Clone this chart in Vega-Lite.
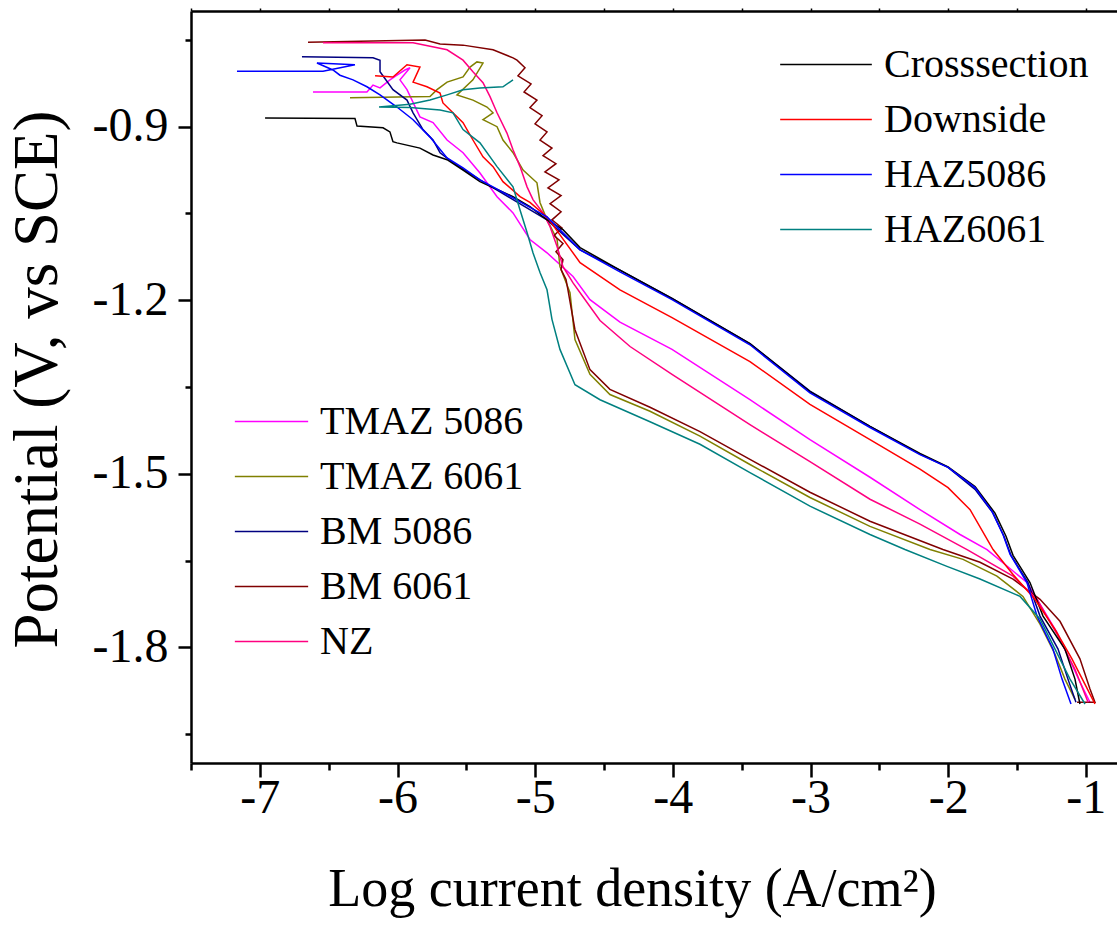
{
  "$schema": "https://vega.github.io/schema/vega-lite/v6.json",
  "width": 926,
  "height": 752,
  "autosize": {"type": "none"},
  "padding": {"left": 191, "top": 11, "right": 0, "bottom": 172},
  "background": "white",
  "config": {
    "font": "'Liberation Serif', 'Times New Roman', Tinos, 'DejaVu Serif', serif",
    "view": {"stroke": null},
    "axis": {"grid": false, "domainColor": "black", "tickColor": "black", "labelColor": "black", "titleColor": "black", "labelFont": "'Liberation Serif', 'Times New Roman', Tinos, 'DejaVu Serif', serif", "titleFont": "'Liberation Serif', 'Times New Roman', Tinos, 'DejaVu Serif', serif", "titleFontWeight": "normal"},
    "legend": {"labelFont": "'Liberation Serif', 'Times New Roman', Tinos, 'DejaVu Serif', serif", "labelColor": "black"}
  },
  "datasets": {
    "a": [
      {"s":"Crosssection","i":1,"x":-6.962,"y":-0.885},
      {"s":"Crosssection","i":2,"x":-6.309,"y":-0.886},
      {"s":"Crosssection","i":3,"x":-6.294,"y":-0.899},
      {"s":"Crosssection","i":4,"x":-6.105,"y":-0.902},
      {"s":"Crosssection","i":5,"x":-6.055,"y":-0.909},
      {"s":"Crosssection","i":6,"x":-6.033,"y":-0.926},
      {"s":"Crosssection","i":7,"x":-6.004,"y":-0.928},
      {"s":"Crosssection","i":8,"x":-5.837,"y":-0.937},
      {"s":"Crosssection","i":9,"x":-5.742,"y":-0.949},
      {"s":"Crosssection","i":10,"x":-5.640,"y":-0.957},
      {"s":"Crosssection","i":11,"x":-5.524,"y":-0.975},
      {"s":"Crosssection","i":12,"x":-5.401,"y":-0.995},
      {"s":"Crosssection","i":13,"x":-5.161,"y":-1.021},
      {"s":"Crosssection","i":14,"x":-5.038,"y":-1.038},
      {"s":"Crosssection","i":15,"x":-4.914,"y":-1.061},
      {"s":"Crosssection","i":16,"x":-4.798,"y":-1.078},
      {"s":"Crosssection","i":17,"x":-4.674,"y":-1.109},
      {"s":"Crosssection","i":18,"x":-4.384,"y":-1.148},
      {"s":"Crosssection","i":19,"x":-4.006,"y":-1.197},
      {"s":"Crosssection","i":20,"x":-3.440,"y":-1.275},
      {"s":"Crosssection","i":21,"x":-3.004,"y":-1.358},
      {"s":"Crosssection","i":22,"x":-2.568,"y":-1.418},
      {"s":"Crosssection","i":23,"x":-2.205,"y":-1.465},
      {"s":"Crosssection","i":24,"x":-2.001,"y":-1.488},
      {"s":"Crosssection","i":25,"x":-1.805,"y":-1.522},
      {"s":"Crosssection","i":26,"x":-1.660,"y":-1.568},
      {"s":"Crosssection","i":27,"x":-1.580,"y":-1.608},
      {"s":"Crosssection","i":28,"x":-1.529,"y":-1.641},
      {"s":"Crosssection","i":29,"x":-1.406,"y":-1.688},
      {"s":"Crosssection","i":30,"x":-1.311,"y":-1.746},
      {"s":"Crosssection","i":31,"x":-1.152,"y":-1.803},
      {"s":"Crosssection","i":32,"x":-1.079,"y":-1.855},
      {"s":"Crosssection","i":33,"x":-1.043,"y":-1.898},

      {"s":"Downside","i":1,"x":-6.163,"y":-0.812},
      {"s":"Downside","i":2,"x":-6.033,"y":-0.814},
      {"s":"Downside","i":3,"x":-5.931,"y":-0.793},
      {"s":"Downside","i":4,"x":-5.837,"y":-0.797},
      {"s":"Downside","i":5,"x":-5.887,"y":-0.823},
      {"s":"Downside","i":6,"x":-5.786,"y":-0.831},
      {"s":"Downside","i":7,"x":-5.691,"y":-0.842},
      {"s":"Downside","i":8,"x":-5.670,"y":-0.859},
      {"s":"Downside","i":9,"x":-5.597,"y":-0.876},
      {"s":"Downside","i":10,"x":-5.524,"y":-0.893},
      {"s":"Downside","i":11,"x":-5.452,"y":-0.923},
      {"s":"Downside","i":12,"x":-5.379,"y":-0.952},
      {"s":"Downside","i":13,"x":-5.306,"y":-0.969},
      {"s":"Downside","i":14,"x":-5.234,"y":-0.995},
      {"s":"Downside","i":15,"x":-5.110,"y":-1.021},
      {"s":"Downside","i":16,"x":-5.038,"y":-1.031},
      {"s":"Downside","i":17,"x":-4.914,"y":-1.056},
      {"s":"Downside","i":18,"x":-4.674,"y":-1.135},
      {"s":"Downside","i":19,"x":-4.384,"y":-1.182},
      {"s":"Downside","i":20,"x":-4.006,"y":-1.230},
      {"s":"Downside","i":21,"x":-3.440,"y":-1.306},
      {"s":"Downside","i":22,"x":-3.004,"y":-1.380},
      {"s":"Downside","i":23,"x":-2.568,"y":-1.441},
      {"s":"Downside","i":24,"x":-2.205,"y":-1.492},
      {"s":"Downside","i":25,"x":-2.001,"y":-1.524},
      {"s":"Downside","i":26,"x":-1.841,"y":-1.562},
      {"s":"Downside","i":27,"x":-1.674,"y":-1.631},
      {"s":"Downside","i":28,"x":-1.529,"y":-1.674},
      {"s":"Downside","i":29,"x":-1.370,"y":-1.717},
      {"s":"Downside","i":30,"x":-1.224,"y":-1.769},
      {"s":"Downside","i":31,"x":-1.101,"y":-1.820},
      {"s":"Downside","i":32,"x":-1.006,"y":-1.864},
      {"s":"Downside","i":33,"x":-0.934,"y":-1.898},

      {"s":"HAZ5086","i":1,"x":-7.166,"y":-0.804},
      {"s":"HAZ5086","i":2,"x":-6.541,"y":-0.804},
      {"s":"HAZ5086","i":3,"x":-6.309,"y":-0.793},
      {"s":"HAZ5086","i":4,"x":-6.585,"y":-0.790},
      {"s":"HAZ5086","i":5,"x":-6.469,"y":-0.802},
      {"s":"HAZ5086","i":6,"x":-6.418,"y":-0.811},
      {"s":"HAZ5086","i":7,"x":-6.323,"y":-0.819},
      {"s":"HAZ5086","i":8,"x":-6.222,"y":-0.831},
      {"s":"HAZ5086","i":9,"x":-6.127,"y":-0.845},
      {"s":"HAZ5086","i":10,"x":-6.004,"y":-0.866},
      {"s":"HAZ5086","i":11,"x":-5.887,"y":-0.888},
      {"s":"HAZ5086","i":12,"x":-5.764,"y":-0.918},
      {"s":"HAZ5086","i":13,"x":-5.640,"y":-0.954},
      {"s":"HAZ5086","i":14,"x":-5.524,"y":-0.971},
      {"s":"HAZ5086","i":15,"x":-5.401,"y":-0.992},
      {"s":"HAZ5086","i":16,"x":-5.161,"y":-1.023},
      {"s":"HAZ5086","i":17,"x":-4.914,"y":-1.056},
      {"s":"HAZ5086","i":18,"x":-4.674,"y":-1.113},
      {"s":"HAZ5086","i":19,"x":-4.384,"y":-1.151},
      {"s":"HAZ5086","i":20,"x":-4.006,"y":-1.199},
      {"s":"HAZ5086","i":21,"x":-3.440,"y":-1.277},
      {"s":"HAZ5086","i":22,"x":-3.004,"y":-1.360},
      {"s":"HAZ5086","i":23,"x":-2.568,"y":-1.420},
      {"s":"HAZ5086","i":24,"x":-2.205,"y":-1.467},
      {"s":"HAZ5086","i":25,"x":-2.001,"y":-1.489},
      {"s":"HAZ5086","i":26,"x":-1.805,"y":-1.524},
      {"s":"HAZ5086","i":27,"x":-1.682,"y":-1.565},
      {"s":"HAZ5086","i":28,"x":-1.602,"y":-1.605},
      {"s":"HAZ5086","i":29,"x":-1.551,"y":-1.639},
      {"s":"HAZ5086","i":30,"x":-1.428,"y":-1.688},
      {"s":"HAZ5086","i":31,"x":-1.355,"y":-1.746},
      {"s":"HAZ5086","i":32,"x":-1.239,"y":-1.803},
      {"s":"HAZ5086","i":33,"x":-1.173,"y":-1.855},
      {"s":"HAZ5086","i":34,"x":-1.108,"y":-1.898},

      {"s":"HAZ6061","i":1,"x":-5.161,"y":-0.819},
      {"s":"HAZ6061","i":2,"x":-5.234,"y":-0.831},
      {"s":"HAZ6061","i":3,"x":-5.401,"y":-0.833},
      {"s":"HAZ6061","i":4,"x":-5.524,"y":-0.836},
      {"s":"HAZ6061","i":5,"x":-5.640,"y":-0.845},
      {"s":"HAZ6061","i":6,"x":-5.764,"y":-0.854},
      {"s":"HAZ6061","i":7,"x":-5.909,"y":-0.861},
      {"s":"HAZ6061","i":8,"x":-6.134,"y":-0.866},
      {"s":"HAZ6061","i":9,"x":-5.909,"y":-0.867},
      {"s":"HAZ6061","i":10,"x":-5.691,"y":-0.871},
      {"s":"HAZ6061","i":11,"x":-5.597,"y":-0.876},
      {"s":"HAZ6061","i":12,"x":-5.524,"y":-0.905},
      {"s":"HAZ6061","i":13,"x":-5.401,"y":-0.928},
      {"s":"HAZ6061","i":14,"x":-5.277,"y":-0.969},
      {"s":"HAZ6061","i":15,"x":-5.161,"y":-1.004},
      {"s":"HAZ6061","i":16,"x":-5.110,"y":-1.044},
      {"s":"HAZ6061","i":17,"x":-5.059,"y":-1.083},
      {"s":"HAZ6061","i":18,"x":-5.016,"y":-1.118},
      {"s":"HAZ6061","i":19,"x":-4.965,"y":-1.152},
      {"s":"HAZ6061","i":20,"x":-4.914,"y":-1.182},
      {"s":"HAZ6061","i":21,"x":-4.878,"y":-1.233},
      {"s":"HAZ6061","i":22,"x":-4.820,"y":-1.285},
      {"s":"HAZ6061","i":23,"x":-4.711,"y":-1.346},
      {"s":"HAZ6061","i":24,"x":-4.529,"y":-1.372},
      {"s":"HAZ6061","i":25,"x":-4.166,"y":-1.410},
      {"s":"HAZ6061","i":26,"x":-3.803,"y":-1.449},
      {"s":"HAZ6061","i":27,"x":-3.440,"y":-1.498},
      {"s":"HAZ6061","i":28,"x":-3.004,"y":-1.556},
      {"s":"HAZ6061","i":29,"x":-2.568,"y":-1.605},
      {"s":"HAZ6061","i":30,"x":-2.314,"y":-1.631},
      {"s":"HAZ6061","i":31,"x":-2.009,"y":-1.660},
      {"s":"HAZ6061","i":32,"x":-1.769,"y":-1.682},
      {"s":"HAZ6061","i":33,"x":-1.478,"y":-1.712},
      {"s":"HAZ6061","i":34,"x":-1.333,"y":-1.751},
      {"s":"HAZ6061","i":35,"x":-1.224,"y":-1.803},
      {"s":"HAZ6061","i":36,"x":-1.115,"y":-1.855},
      {"s":"HAZ6061","i":37,"x":-1.006,"y":-1.898}
    ],
    "b": [
      {"s":"TMAZ 5086","i":1,"x":-6.614,"y":-0.840},
      {"s":"TMAZ 5086","i":2,"x":-6.222,"y":-0.840},
      {"s":"TMAZ 5086","i":3,"x":-6.178,"y":-0.828},
      {"s":"TMAZ 5086","i":4,"x":-6.127,"y":-0.833},
      {"s":"TMAZ 5086","i":5,"x":-6.055,"y":-0.819},
      {"s":"TMAZ 5086","i":6,"x":-6.004,"y":-0.811},
      {"s":"TMAZ 5086","i":7,"x":-5.946,"y":-0.802},
      {"s":"TMAZ 5086","i":8,"x":-5.909,"y":-0.798},
      {"s":"TMAZ 5086","i":9,"x":-5.982,"y":-0.819},
      {"s":"TMAZ 5086","i":10,"x":-5.931,"y":-0.836},
      {"s":"TMAZ 5086","i":11,"x":-5.837,"y":-0.883},
      {"s":"TMAZ 5086","i":12,"x":-5.742,"y":-0.893},
      {"s":"TMAZ 5086","i":13,"x":-5.640,"y":-0.923},
      {"s":"TMAZ 5086","i":14,"x":-5.524,"y":-0.945},
      {"s":"TMAZ 5086","i":15,"x":-5.401,"y":-0.980},
      {"s":"TMAZ 5086","i":16,"x":-5.277,"y":-1.021},
      {"s":"TMAZ 5086","i":17,"x":-5.161,"y":-1.049},
      {"s":"TMAZ 5086","i":18,"x":-5.038,"y":-1.095},
      {"s":"TMAZ 5086","i":19,"x":-4.914,"y":-1.118},
      {"s":"TMAZ 5086","i":20,"x":-4.725,"y":-1.159},
      {"s":"TMAZ 5086","i":21,"x":-4.602,"y":-1.199},
      {"s":"TMAZ 5086","i":22,"x":-4.384,"y":-1.238},
      {"s":"TMAZ 5086","i":23,"x":-4.006,"y":-1.285},
      {"s":"TMAZ 5086","i":24,"x":-3.440,"y":-1.372},
      {"s":"TMAZ 5086","i":25,"x":-3.004,"y":-1.441},
      {"s":"TMAZ 5086","i":26,"x":-2.568,"y":-1.506},
      {"s":"TMAZ 5086","i":27,"x":-2.205,"y":-1.562},
      {"s":"TMAZ 5086","i":28,"x":-1.914,"y":-1.605},
      {"s":"TMAZ 5086","i":29,"x":-1.718,"y":-1.631},
      {"s":"TMAZ 5086","i":30,"x":-1.428,"y":-1.688},
      {"s":"TMAZ 5086","i":31,"x":-1.210,"y":-1.774},
      {"s":"TMAZ 5086","i":32,"x":-1.043,"y":-1.860},
      {"s":"TMAZ 5086","i":33,"x":-0.970,"y":-1.895},

      {"s":"TMAZ 6061","i":1,"x":-6.345,"y":-0.850},
      {"s":"TMAZ 6061","i":2,"x":-5.764,"y":-0.848},
      {"s":"TMAZ 6061","i":3,"x":-5.713,"y":-0.836},
      {"s":"TMAZ 6061","i":4,"x":-5.640,"y":-0.823},
      {"s":"TMAZ 6061","i":5,"x":-5.524,"y":-0.814},
      {"s":"TMAZ 6061","i":6,"x":-5.473,"y":-0.797},
      {"s":"TMAZ 6061","i":7,"x":-5.423,"y":-0.788},
      {"s":"TMAZ 6061","i":8,"x":-5.379,"y":-0.790},
      {"s":"TMAZ 6061","i":9,"x":-5.452,"y":-0.819},
      {"s":"TMAZ 6061","i":10,"x":-5.568,"y":-0.845},
      {"s":"TMAZ 6061","i":11,"x":-5.452,"y":-0.854},
      {"s":"TMAZ 6061","i":12,"x":-5.350,"y":-0.866},
      {"s":"TMAZ 6061","i":13,"x":-5.306,"y":-0.876},
      {"s":"TMAZ 6061","i":14,"x":-5.379,"y":-0.888},
      {"s":"TMAZ 6061","i":15,"x":-5.277,"y":-0.900},
      {"s":"TMAZ 6061","i":16,"x":-5.234,"y":-0.923},
      {"s":"TMAZ 6061","i":17,"x":-5.161,"y":-0.945},
      {"s":"TMAZ 6061","i":18,"x":-5.088,"y":-0.975},
      {"s":"TMAZ 6061","i":19,"x":-4.987,"y":-0.997},
      {"s":"TMAZ 6061","i":20,"x":-4.965,"y":-1.031},
      {"s":"TMAZ 6061","i":21,"x":-4.914,"y":-1.061},
      {"s":"TMAZ 6061","i":22,"x":-4.841,"y":-1.095},
      {"s":"TMAZ 6061","i":23,"x":-4.820,"y":-1.142},
      {"s":"TMAZ 6061","i":24,"x":-4.747,"y":-1.187},
      {"s":"TMAZ 6061","i":25,"x":-4.711,"y":-1.268},
      {"s":"TMAZ 6061","i":26,"x":-4.602,"y":-1.328},
      {"s":"TMAZ 6061","i":27,"x":-4.457,"y":-1.363},
      {"s":"TMAZ 6061","i":28,"x":-4.166,"y":-1.392},
      {"s":"TMAZ 6061","i":29,"x":-3.803,"y":-1.435},
      {"s":"TMAZ 6061","i":30,"x":-3.440,"y":-1.484},
      {"s":"TMAZ 6061","i":31,"x":-3.004,"y":-1.541},
      {"s":"TMAZ 6061","i":32,"x":-2.568,"y":-1.591},
      {"s":"TMAZ 6061","i":33,"x":-2.132,"y":-1.631},
      {"s":"TMAZ 6061","i":34,"x":-1.892,"y":-1.648},
      {"s":"TMAZ 6061","i":35,"x":-1.646,"y":-1.677},
      {"s":"TMAZ 6061","i":36,"x":-1.457,"y":-1.712},
      {"s":"TMAZ 6061","i":37,"x":-1.333,"y":-1.760},
      {"s":"TMAZ 6061","i":38,"x":-1.224,"y":-1.812},
      {"s":"TMAZ 6061","i":39,"x":-1.152,"y":-1.855},
      {"s":"TMAZ 6061","i":40,"x":-1.079,"y":-1.890},

      {"s":"BM 5086","i":1,"x":-6.694,"y":-0.779},
      {"s":"BM 5086","i":2,"x":-6.178,"y":-0.781},
      {"s":"BM 5086","i":3,"x":-6.127,"y":-0.785},
      {"s":"BM 5086","i":4,"x":-6.127,"y":-0.805},
      {"s":"BM 5086","i":5,"x":-6.033,"y":-0.836},
      {"s":"BM 5086","i":6,"x":-5.931,"y":-0.854},
      {"s":"BM 5086","i":7,"x":-5.887,"y":-0.876},
      {"s":"BM 5086","i":8,"x":-5.815,"y":-0.905},
      {"s":"BM 5086","i":9,"x":-5.742,"y":-0.923},
      {"s":"BM 5086","i":10,"x":-5.691,"y":-0.945},
      {"s":"BM 5086","i":11,"x":-5.597,"y":-0.962},
      {"s":"BM 5086","i":12,"x":-5.401,"y":-0.992},
      {"s":"BM 5086","i":13,"x":-5.161,"y":-1.026},
      {"s":"BM 5086","i":14,"x":-4.914,"y":-1.061},
      {"s":"BM 5086","i":15,"x":-4.674,"y":-1.113},
      {"s":"BM 5086","i":16,"x":-4.384,"y":-1.148},
      {"s":"BM 5086","i":17,"x":-4.006,"y":-1.197},
      {"s":"BM 5086","i":18,"x":-3.440,"y":-1.275},
      {"s":"BM 5086","i":19,"x":-3.004,"y":-1.357},
      {"s":"BM 5086","i":20,"x":-2.568,"y":-1.418},
      {"s":"BM 5086","i":21,"x":-2.205,"y":-1.466},
      {"s":"BM 5086","i":22,"x":-2.001,"y":-1.489},
      {"s":"BM 5086","i":23,"x":-1.805,"y":-1.527},
      {"s":"BM 5086","i":24,"x":-1.674,"y":-1.568},
      {"s":"BM 5086","i":25,"x":-1.595,"y":-1.608},
      {"s":"BM 5086","i":26,"x":-1.544,"y":-1.641},
      {"s":"BM 5086","i":27,"x":-1.420,"y":-1.688},
      {"s":"BM 5086","i":28,"x":-1.333,"y":-1.746},
      {"s":"BM 5086","i":29,"x":-1.202,"y":-1.803},
      {"s":"BM 5086","i":30,"x":-1.130,"y":-1.855},
      {"s":"BM 5086","i":31,"x":-1.072,"y":-1.895},

      {"s":"BM 6061","i":1,"x":-6.650,"y":-0.754},
      {"s":"BM 6061","i":2,"x":-5.800,"y":-0.750},
      {"s":"BM 6061","i":3,"x":-5.691,"y":-0.757},
      {"s":"BM 6061","i":4,"x":-5.524,"y":-0.759},
      {"s":"BM 6061","i":5,"x":-5.306,"y":-0.767},
      {"s":"BM 6061","i":6,"x":-5.161,"y":-0.781},
      {"s":"BM 6061","i":7,"x":-5.132,"y":-0.785},
      {"s":"BM 6061","i":8,"x":-5.074,"y":-0.798},
      {"s":"BM 6061","i":9,"x":-5.125,"y":-0.812},
      {"s":"BM 6061","i":10,"x":-5.030,"y":-0.826},
      {"s":"BM 6061","i":11,"x":-5.081,"y":-0.840},
      {"s":"BM 6061","i":12,"x":-4.987,"y":-0.854},
      {"s":"BM 6061","i":13,"x":-5.038,"y":-0.867},
      {"s":"BM 6061","i":14,"x":-4.950,"y":-0.881},
      {"s":"BM 6061","i":15,"x":-5.001,"y":-0.895},
      {"s":"BM 6061","i":16,"x":-4.914,"y":-0.909},
      {"s":"BM 6061","i":17,"x":-4.965,"y":-0.923},
      {"s":"BM 6061","i":18,"x":-4.878,"y":-0.937},
      {"s":"BM 6061","i":19,"x":-4.943,"y":-0.950},
      {"s":"BM 6061","i":20,"x":-4.849,"y":-0.964},
      {"s":"BM 6061","i":21,"x":-4.929,"y":-0.978},
      {"s":"BM 6061","i":22,"x":-4.827,"y":-0.992},
      {"s":"BM 6061","i":23,"x":-4.907,"y":-1.006},
      {"s":"BM 6061","i":24,"x":-4.812,"y":-1.019},
      {"s":"BM 6061","i":25,"x":-4.892,"y":-1.033},
      {"s":"BM 6061","i":26,"x":-4.812,"y":-1.047},
      {"s":"BM 6061","i":27,"x":-4.878,"y":-1.061},
      {"s":"BM 6061","i":28,"x":-4.805,"y":-1.075},
      {"s":"BM 6061","i":29,"x":-4.863,"y":-1.088},
      {"s":"BM 6061","i":30,"x":-4.798,"y":-1.102},
      {"s":"BM 6061","i":31,"x":-4.849,"y":-1.116},
      {"s":"BM 6061","i":32,"x":-4.798,"y":-1.130},
      {"s":"BM 6061","i":33,"x":-4.812,"y":-1.147},
      {"s":"BM 6061","i":34,"x":-4.776,"y":-1.164},
      {"s":"BM 6061","i":35,"x":-4.762,"y":-1.182},
      {"s":"BM 6061","i":36,"x":-4.711,"y":-1.251},
      {"s":"BM 6061","i":37,"x":-4.602,"y":-1.320},
      {"s":"BM 6061","i":38,"x":-4.457,"y":-1.354},
      {"s":"BM 6061","i":39,"x":-4.166,"y":-1.385},
      {"s":"BM 6061","i":40,"x":-3.803,"y":-1.427},
      {"s":"BM 6061","i":41,"x":-3.440,"y":-1.475},
      {"s":"BM 6061","i":42,"x":-3.004,"y":-1.532},
      {"s":"BM 6061","i":43,"x":-2.568,"y":-1.582},
      {"s":"BM 6061","i":44,"x":-2.038,"y":-1.631},
      {"s":"BM 6061","i":45,"x":-1.769,"y":-1.653},
      {"s":"BM 6061","i":46,"x":-1.529,"y":-1.682},
      {"s":"BM 6061","i":47,"x":-1.333,"y":-1.717},
      {"s":"BM 6061","i":48,"x":-1.188,"y":-1.755},
      {"s":"BM 6061","i":49,"x":-1.043,"y":-1.820},
      {"s":"BM 6061","i":50,"x":-0.970,"y":-1.872},
      {"s":"BM 6061","i":51,"x":-0.934,"y":-1.895},
      {"s":"BM 6061","i":52,"x":-1.064,"y":-1.895},

      {"s":"NZ","i":1,"x":-6.541,"y":-0.755},
      {"s":"NZ","i":2,"x":-5.887,"y":-0.755},
      {"s":"NZ","i":3,"x":-5.640,"y":-0.767},
      {"s":"NZ","i":4,"x":-5.524,"y":-0.785},
      {"s":"NZ","i":5,"x":-5.452,"y":-0.805},
      {"s":"NZ","i":6,"x":-5.379,"y":-0.824},
      {"s":"NZ","i":7,"x":-5.328,"y":-0.848},
      {"s":"NZ","i":8,"x":-5.277,"y":-0.876},
      {"s":"NZ","i":9,"x":-5.205,"y":-0.911},
      {"s":"NZ","i":10,"x":-5.161,"y":-0.940},
      {"s":"NZ","i":11,"x":-5.110,"y":-0.969},
      {"s":"NZ","i":12,"x":-5.059,"y":-1.004},
      {"s":"NZ","i":13,"x":-5.016,"y":-1.026},
      {"s":"NZ","i":14,"x":-4.943,"y":-1.049},
      {"s":"NZ","i":15,"x":-4.892,"y":-1.073},
      {"s":"NZ","i":16,"x":-4.841,"y":-1.107},
      {"s":"NZ","i":17,"x":-4.798,"y":-1.142},
      {"s":"NZ","i":18,"x":-4.725,"y":-1.170},
      {"s":"NZ","i":19,"x":-4.653,"y":-1.194},
      {"s":"NZ","i":20,"x":-4.529,"y":-1.235},
      {"s":"NZ","i":21,"x":-4.311,"y":-1.280},
      {"s":"NZ","i":22,"x":-4.006,"y":-1.328},
      {"s":"NZ","i":23,"x":-3.440,"y":-1.415},
      {"s":"NZ","i":24,"x":-3.004,"y":-1.479},
      {"s":"NZ","i":25,"x":-2.568,"y":-1.544},
      {"s":"NZ","i":26,"x":-2.205,"y":-1.587},
      {"s":"NZ","i":27,"x":-1.863,"y":-1.631},
      {"s":"NZ","i":28,"x":-1.529,"y":-1.677},
      {"s":"NZ","i":29,"x":-1.355,"y":-1.717},
      {"s":"NZ","i":30,"x":-1.210,"y":-1.777},
      {"s":"NZ","i":31,"x":-1.079,"y":-1.838},
      {"s":"NZ","i":32,"x":-0.984,"y":-1.895}
    ]
  },
  "resolve": {"scale": {"color": "independent"}, "axis": {"x": "independent", "y": "independent"}},
  "layer": [
    {
      "data": {"name": "b"},
      "mark": {"type": "line", "strokeWidth": 1.5, "clip": true},
      "encoding": {
        "x": {"field": "x", "type": "quantitative", "scale": {"domain": [-7.5, -0.7738], "nice": false, "zero": false},
          "axis": {"orient": "bottom", "values": [-7.5, -6.5, -5.5, -4.5, -3.5, -2.5, -1.5], "labels": false, "domain": false, "title": null, "tickSize": 7, "tickWidth": 2.5}},
        "y": {"field": "y", "type": "quantitative", "scale": {"domain": [-2.0, -0.7], "nice": false, "zero": false},
          "axis": {"orient": "left", "values": [-0.75, -1.05, -1.35, -1.65, -1.95], "labels": false, "domain": false, "title": null, "tickSize": 6, "tickWidth": 2.5}},
        "order": {"field": "i", "type": "quantitative"},
        "color": {"field": "s", "type": "nominal",
          "scale": {"domain": ["TMAZ 5086", "TMAZ 6061", "BM 5086", "BM 6061", "NZ"], "range": ["#FF00FF", "#808000", "#000080", "#800000", "#FF0080"]},
          "legend": {"orient": "none", "legendX": 43, "legendY": 384, "title": null, "padding": 0, "labelFontSize": 40, "labelOffset": 11, "labelLimit": 0, "symbolType": "stroke", "symbolSize": 5373, "symbolStrokeWidth": 1.5, "clipHeight": 53, "rowPadding": 2}}
      }
    },
    {
      "data": {"name": "a"},
      "mark": {"type": "line", "strokeWidth": 1.5, "clip": true},
      "encoding": {
        "x": {"field": "x", "type": "quantitative",
          "axis": {"orient": "bottom", "values": [-7, -6, -5, -4, -3, -2, -1], "labelExpr": "'-' + format(abs(datum.value), 'd')", "labelFontSize": 48, "labelBaseline": "alphabetic", "labelPadding": 35, "tickSize": 14, "tickWidth": 2.5, "domainWidth": 2.5,
            "title": "Log current density (A/cm²)", "titleFontSize": 54, "titleX": 441, "titleY": 142, "titleBaseline": "alphabetic"}},
        "y": {"field": "y", "type": "quantitative",
          "axis": {"orient": "left", "values": [-0.9, -1.2, -1.5, -1.8], "labelExpr": "'-' + format(abs(datum.value), '.1f')", "labelFontSize": 48, "labelPadding": 10, "tickSize": 13, "tickWidth": 2.5, "domainWidth": 2.5,
            "title": "Potential (V, vs SCE)", "titleFontSize": 63, "titleX": -135, "titleY": 368, "titleAngle": 270, "titleBaseline": "alphabetic"}},
        "order": {"field": "i", "type": "quantitative"},
        "color": {"field": "s", "type": "nominal",
          "scale": {"domain": ["Crosssection", "Downside", "HAZ5086", "HAZ6061"], "range": ["#000000", "#FF0000", "#0000FF", "#008080"]},
          "legend": {"orient": "none", "legendX": 588, "legendY": 27, "title": null, "padding": 0, "labelFontSize": 40, "labelOffset": 11, "labelLimit": 0, "symbolType": "stroke", "symbolSize": 8400, "symbolStrokeWidth": 1.5, "clipHeight": 53, "rowPadding": 2}}
      }
    },
    {
      "data": {"name": "a"},
      "mark": {"type": "line", "opacity": 0},
      "encoding": {
        "x": {"field": "x", "type": "quantitative",
          "axis": {"orient": "top", "values": [-7.5, -7, -6.5, -6, -5.5, -5, -4.5, -4, -3.5, -3, -2.5, -2, -1.5, -1], "labels": false, "title": null, "tickSize": 3, "tickWidth": 1.5, "domainWidth": 2.5}},
        "y": {"field": "y", "type": "quantitative", "axis": null},
        "detail": {"field": "s", "type": "nominal"},
        "order": {"field": "i", "type": "quantitative"}
      }
    }
  ]
}
